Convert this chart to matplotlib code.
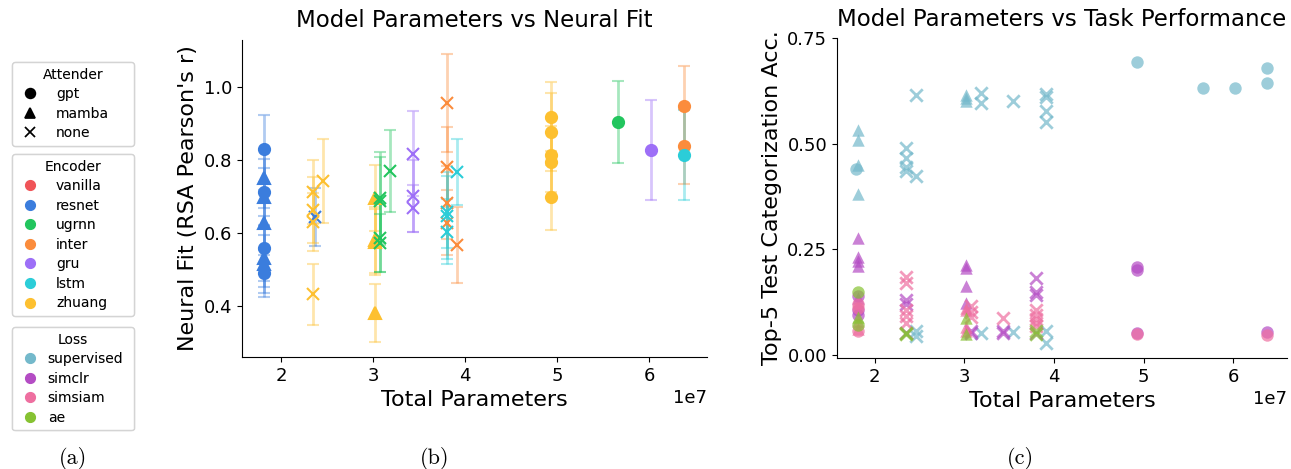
import matplotlib
matplotlib.use('Agg')
import matplotlib.pyplot as plt
from matplotlib.lines import Line2D

# ---- colours
encoder_colors = {'vanilla': '#f05458', 'resnet': '#3b7ddd', 'ugrnn': '#22c55e',
                  'inter': '#fb8c3c', 'gru': '#9d6ff7', 'lstm': '#2bcdd8',
                  'zhuang': '#fdc030'}
loss_colors = {'supervised': '#74b9cb', 'simclr': '#b44cc4',
               'simsiam': '#ee6fa0', 'ae': '#86c232'}
attender_markers = {'gpt': 'o', 'mamba': '^', 'none': 'x'}

# ---- panel (b): neural fit (params in units of 1e7)
b_params = [1.81, 1.81, 1.81, 1.81, 1.81, 1.81, 1.81, 1.81, 1.81,
            2.37,
            2.35, 2.35, 2.35, 2.35, 2.46,
            3.02, 3.02, 3.02, 3.02,
            3.08, 3.08, 3.08, 3.08, 3.19,
            3.43, 3.43, 3.43,
            3.80, 3.80, 3.80, 3.80, 3.91,
            3.80, 3.80, 3.80, 3.91,
            4.93, 4.93, 4.93, 4.93, 4.93,
            5.66, 6.02, 6.38, 6.38, 6.38]
b_fit = [0.832, 0.750, 0.713, 0.700, 0.629, 0.558, 0.533, 0.515, 0.490,
         0.645,
         0.713, 0.663, 0.631, 0.432, 0.743,
         0.697, 0.581, 0.575, 0.380,
         0.697, 0.688, 0.587, 0.573, 0.770,
         0.818, 0.702, 0.668,
         0.957, 0.782, 0.683, 0.629, 0.567,
         0.658, 0.648, 0.604, 0.768,
         0.920, 0.878, 0.814, 0.795, 0.698,
         0.905, 0.829, 0.948, 0.838, 0.814]
b_err = [0.091, 0.080, 0.090, 0.080, 0.090, 0.090, 0.080, 0.080, 0.065,
         0.080,
         0.087, 0.090, 0.080, 0.083, 0.115,
         0.090, 0.090, 0.090, 0.080,
         0.125, 0.120, 0.093, 0.079, 0.113,
         0.117, 0.100, 0.064,
         0.135, 0.110, 0.100, 0.090, 0.105,
         0.100, 0.120, 0.090, 0.091,
         0.095, 0.107, 0.100, 0.100, 0.090,
         0.112, 0.137, 0.110, 0.104, 0.124]
b_encoder = ['resnet'] * 9 + ['resnet'] + ['zhuang'] * 5 + ['zhuang'] * 4 + \
            ['ugrnn'] * 5 + ['gru'] * 3 + ['inter'] * 5 + ['lstm'] * 4 + \
            ['zhuang'] * 5 + ['ugrnn', 'gru', 'inter', 'inter', 'lstm']
b_attender = ['gpt', 'mamba', 'gpt', 'mamba', 'mamba', 'gpt', 'mamba', 'mamba', 'gpt',
              'none'] + ['none'] * 5 + ['mamba'] * 4 + ['none'] * 5 + ['none'] * 3 + \
             ['none'] * 5 + ['none'] * 4 + ['gpt'] * 5 + ['gpt'] * 5

# ---- panel (c): task performance, grouped by loss
sup_params = [1.81, 1.81, 1.81, 1.81, 1.79, 2.35, 2.35, 2.35, 2.35,
              2.46, 2.46, 2.46, 2.46, 3.02, 3.02, 3.02, 3.19, 3.19, 3.19,
              3.54, 3.54, 3.91, 3.91, 3.91, 3.91, 3.91, 3.91,
              4.93, 5.66, 6.02, 6.38, 6.38]
sup_acc = [0.532, 0.508, 0.449, 0.381, 0.439, 0.489, 0.465, 0.445, 0.434,
           0.615, 0.424, 0.055, 0.045, 0.615, 0.607, 0.600, 0.620, 0.597, 0.052,
           0.600, 0.053, 0.617, 0.610, 0.577, 0.550, 0.055, 0.028,
           0.692, 0.632, 0.632, 0.678, 0.643]
sup_att = ['mamba'] * 4 + ['gpt'] + ['none'] * 8 + ['mamba'] * 3 + ['none'] * 11 + ['gpt'] * 5

clr_params = [1.81, 1.81, 1.81, 1.81, 1.81, 1.81, 1.81, 1.81,
              2.35, 2.35, 2.35, 3.02, 3.02, 3.02, 3.02, 3.07, 3.07,
              3.43, 3.43, 3.80, 3.80, 3.80, 3.80, 4.93, 4.93, 4.93, 6.38]
clr_acc = [0.276, 0.232, 0.222, 0.210, 0.135, 0.138, 0.095, 0.105,
           0.130, 0.121, 0.052, 0.213, 0.205, 0.162, 0.122, 0.052, 0.055,
           0.055, 0.052, 0.181, 0.142, 0.148, 0.052, 0.207, 0.200, 0.052, 0.053]
clr_att = ['mamba'] * 5 + ['gpt'] * 3 + ['none'] * 3 + ['mamba'] * 4 + ['none'] * 8 + ['gpt'] * 4

siam_params = [1.81, 1.81, 1.81, 1.81, 1.81, 2.35, 2.35, 2.35, 2.35, 2.35,
               3.02, 3.02, 3.02, 3.02, 3.07, 3.07, 3.07, 3.43,
               3.80, 3.80, 3.80, 3.80, 3.80, 4.93, 6.38]
siam_acc = [0.110, 0.055, 0.120, 0.060, 0.080, 0.184, 0.170, 0.106, 0.091, 0.075,
            0.110, 0.105, 0.055, 0.065, 0.115, 0.100, 0.090, 0.087,
            0.106, 0.095, 0.085, 0.075, 0.068, 0.050, 0.047]
siam_att = ['gpt'] * 3 + ['mamba'] * 2 + ['none'] * 5 + ['mamba'] * 4 + ['none'] * 9 + ['gpt'] * 2

ae_params = [1.81, 1.81, 1.81, 2.35, 2.35, 3.02, 3.02, 3.80, 3.80]
ae_acc = [0.148, 0.069, 0.090, 0.051, 0.050, 0.087, 0.050, 0.055, 0.050]
ae_att = ['gpt', 'gpt', 'mamba', 'none', 'none', 'mamba', 'mamba', 'none', 'none']

W, H = 1291, 469
fig = plt.figure(figsize=(W / 100, H / 100), dpi=100)

def style_axes(ax):
    ax.spines['top'].set_visible(False)
    ax.spines['right'].set_visible(False)
    ax.tick_params(labelsize=13)
    ax.xaxis.get_offset_text().set_fontsize(13)

# ---- (b)
axb = fig.add_axes([242 / W, 1 - 357 / H, 465 / W, 317 / H])
for x, y, e, enc, att in zip(b_params, b_fit, b_err, b_encoder, b_attender):
    c = encoder_colors[enc]
    m = attender_markers[att]
    line, caps, bars = axb.errorbar(x * 1e7, y, yerr=e, fmt=m, color=c,
                                    ms=9 if m == 'x' else 8, mew=1.5,
                                    capsize=4, elinewidth=2, capthick=1.5)
    for cap in caps:
        cap.set_alpha(0.4)
    for b in bars:
        b.set_alpha(0.4)
axb.set_xlim(1.576e7, 6.63e7)
axb.set_ylim(0.26, 1.13)
axb.set_yticks([0.4, 0.6, 0.8, 1.0])
axb.set_xlabel('Total Parameters', fontsize=16)
axb.set_ylabel("Neural Fit (RSA Pearson's r)", fontsize=16)
axb.set_title('Model Parameters vs Neural Fit', fontsize=16.5, pad=9)
style_axes(axb)

# ---- (c)
axc = fig.add_axes([837 / W, 1 - 358 / H, 450 / W, 320 / H])
groups = [('supervised', sup_params, sup_acc, sup_att),
          ('simclr', clr_params, clr_acc, clr_att),
          ('simsiam', siam_params, siam_acc, siam_att),
          ('ae', ae_params, ae_acc, ae_att)]
for loss, xs, ys, atts in groups:
    for mk in ['o', '^', 'x']:
        px = [x * 1e7 for x, a in zip(xs, atts) if attender_markers[a] == mk]
        py = [y for y, a in zip(ys, atts) if attender_markers[a] == mk]
        axc.scatter(px, py, marker=mk, color=loss_colors[loss], alpha=0.7,
                    s=80, linewidths=2 if mk == 'x' else 0)
axc.set_xlim(1.58e7, 6.6e7)
axc.set_ylim(-0.008, 0.75)
axc.set_yticks([0.0, 0.25, 0.5, 0.75])
axc.set_xlabel('Total Parameters', fontsize=16)
axc.set_ylabel('Top-5 Test Categorization Acc.', fontsize=16)
axc.set_title('Model Parameters vs Task Performance', fontsize=16.5, pad=9)
style_axes(axc)

# ---- (a) legends
def add_legend(title, handles, labels, top, pad):
    leg = fig.legend(handles, labels, title=title, loc='upper left',
                     bbox_to_anchor=(12 / W, 1 - top / H, 122 / W, 0),
                     mode='expand', borderaxespad=0, fontsize=10, title_fontsize=10,
                     handlelength=1.8, handletextpad=pad, labelspacing=0.4,
                     borderpad=0.4, frameon=True, edgecolor='#d0d0d0')
    fig.add_artist(leg)

att_handles = [Line2D([], [], marker=attender_markers[a], color='black', ls='',
                      ms=7, mew=1.2) for a in attender_markers]
add_legend('Attender', att_handles, list(attender_markers), 62, 0.96)
enc_handles = [Line2D([], [], marker='o', color=encoder_colors[e], ls='', ms=7)
               for e in encoder_colors]
add_legend('Encoder', enc_handles, list(encoder_colors), 154, 0.96)
loss_handles = [Line2D([], [], marker='o', color=loss_colors[l], ls='', ms=7)
                for l in loss_colors]
add_legend('Loss', loss_handles, list(loss_colors), 327, 0.37)

# ---- captions
for label, xc in [('(a)', 73), ('(b)', 435), ('(c)', 1020)]:
    fig.text(xc / W, 1 - 458 / H, label, family='cmr10', fontsize=16,
             ha='center', va='center')

fig.savefig('out.png', dpi=100)
